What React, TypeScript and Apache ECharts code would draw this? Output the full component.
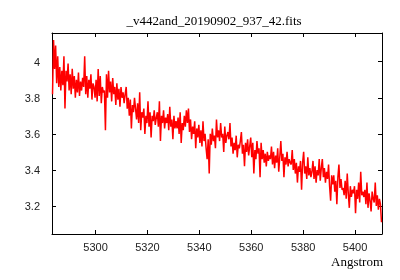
import React, { useEffect, useRef } from "react";
import * as echarts from "echarts";

const TITLE = "_v442and_20190902_937_42.fits";
const X_NAME = "Angstrom";
const X_MIN = 5283.2;
const X_MAX = 5410.4;
const Y_MIN = 3.045;
const Y_MAX = 4.159;
const WAVE_START = 5283.4;
const WAVE_STEP = 0.4;

const fluxA = [
  3.82, 4.12, 3.96, 4.09, 3.88, 4.03, 3.86, 3.97, 3.84, 3.95,
  3.87, 4.03, 3.74, 3.95, 3.89, 3.99, 3.84, 3.93, 3.82, 3.96,
  3.85, 3.92, 3.8, 3.9, 3.83, 3.94, 3.81, 3.89, 3.84, 3.91,
  3.86, 4.03, 3.82, 3.92, 3.8, 3.9, 3.85, 3.93, 3.79, 3.88,
  3.86, 3.8, 3.9, 3.78, 3.96, 3.81, 3.92, 3.77, 3.86, 3.83,
  3.84, 3.62, 3.93, 3.8, 3.95, 3.83, 3.89, 3.78, 3.91, 3.82,
  3.86, 3.76, 3.88, 3.79, 3.85, 3.75, 3.86, 3.8, 3.83, 3.77,
  3.82, 3.86, 3.74, 3.8, 3.7, 3.79, 3.63, 3.76, 3.72, 3.8,
];
const fluxB = [
  3.74, 3.68, 3.77, 3.66, 3.83, 3.62, 3.72, 3.69, 3.74, 3.6,
  3.7, 3.66, 3.78, 3.64, 3.72, 3.58, 3.7, 3.67, 3.73, 3.65,
  3.69, 3.72, 3.64, 3.78, 3.56, 3.7, 3.66, 3.73, 3.63, 3.69,
  3.66, 3.71, 3.62, 3.75, 3.64, 3.68, 3.57, 3.7, 3.63, 3.67,
  3.63, 3.69, 3.6, 3.72, 3.55, 3.66, 3.62, 3.7, 3.64, 3.73,
  3.66, 3.74, 3.61, 3.68, 3.57, 3.64, 3.6, 3.67, 3.52, 3.63,
  3.58, 3.65, 3.55, 3.62, 3.53, 3.67, 3.56, 3.6, 3.52, 3.46,
  3.57, 3.38, 3.6, 3.54, 3.63, 3.56, 3.59, 3.52, 3.68, 3.58,
];
const fluxC = [
  3.62, 3.56, 3.66, 3.58, 3.6, 3.5, 3.64, 3.55, 3.59, 3.61,
  3.57, 3.66, 3.53, 3.58, 3.49, 3.55, 3.51, 3.59, 3.47, 3.54,
  3.52, 3.56, 3.61, 3.49, 3.54, 3.42, 3.55, 3.5, 3.57, 3.48,
  3.53, 3.58, 3.47, 3.55, 3.38, 3.51, 3.46, 3.56, 3.49, 3.52,
  3.36, 3.55, 3.46, 3.51, 3.44, 3.49, 3.42, 3.5, 3.45, 3.48,
  3.46, 3.53, 3.43, 3.5, 3.41, 3.48, 3.44, 3.52, 3.39, 3.47,
  3.56, 3.45, 3.49, 3.36, 3.47, 3.43, 3.5, 3.42, 3.46, 3.44,
  3.43, 3.51, 3.4, 3.46, 3.38, 3.44, 3.33, 3.42, 3.39, 3.45,
];
const fluxD = [
  3.29, 3.44, 3.5, 3.38, 3.42, 3.35, 3.47, 3.37, 3.41, 3.36,
  3.39, 3.45, 3.35, 3.42, 3.33, 3.4, 3.37, 3.46, 3.34, 3.41,
  3.46, 3.36, 3.41, 3.33, 3.39, 3.35, 3.43, 3.31, 3.23, 3.37,
  3.32, 3.37, 3.28, 3.34, 3.21, 3.36, 3.43, 3.3, 3.35, 3.29,
  3.3, 3.26, 3.34, 3.24, 3.38, 3.27, 3.19, 3.31, 3.25, 3.29,
  3.27, 3.31, 3.16, 3.29, 3.24, 3.33, 3.22, 3.39, 3.26, 3.28,
  3.25, 3.29, 3.21, 3.33, 3.19, 3.27, 3.23, 3.17, 3.28, 3.24,
  3.22, 3.33, 3.2, 3.26, 3.18, 3.24, 3.21, 3.11,
];
const flux = [...fluxA, ...fluxB, ...fluxC, ...fluxD];

export default function App() {
  const ref = useRef<HTMLDivElement>(null);
  useEffect(() => {
    if (!ref.current) return;
    const chart = echarts.init(ref.current, null, { renderer: "svg" });
    const data = flux.map((v, i) => [
      Math.round((WAVE_START + i * WAVE_STEP) * 10) / 10,
      v,
    ]);
    const lineStyle = { color: "#000", width: 1 };
    const label = {
      color: "#222",
      fontSize: 11,
      fontFamily: "Liberation Sans",
      showMinLabel: false,
      showMaxLabel: false,
      formatter: (v: number) => String(v),
    };
    const xCommon = {
      type: "value",
      min: X_MIN,
      max: X_MAX,
      splitNumber: 6,
      axisLine: { show: true, onZero: false, lineStyle },
      axisTick: { show: true, inside: true, length: 4, lineStyle },
      splitLine: { show: false },
    };
    const yCommon = {
      type: "value",
      min: Y_MIN,
      max: Y_MAX,
      splitNumber: 5,
      axisLine: { show: true, onZero: false, lineStyle },
      axisTick: { show: true, inside: true, length: 4, lineStyle },
      splitLine: { show: false },
    };
    chart.setOption({
      animation: false,
      grid: {
        left: 52,
        right: 18,
        top: 33,
        bottom: 46,
        containLabel: false,
        outerBoundsMode: "none",
      },
      xAxis: [
        { ...xCommon, position: "bottom", axisLabel: { ...label, margin: 7 } },
        { ...xCommon, position: "top", axisLabel: { show: false } },
      ],
      yAxis: [
        { ...yCommon, position: "left", axisLabel: { ...label, margin: 12 } },
        { ...yCommon, position: "right", axisLabel: { show: false } },
      ],
      graphic: [
        {
          type: "text",
          x: 214,
          y: 20,
          style: {
            text: TITLE,
            fill: "#000",
            fontSize: 13,
            fontFamily: "Liberation Serif",
            align: "center",
            verticalAlign: "middle",
          },
        },
        {
          type: "text",
          x: 383,
          y: 261,
          style: {
            text: X_NAME,
            fill: "#000",
            fontSize: 13,
            fontFamily: "Liberation Serif",
            align: "right",
            verticalAlign: "middle",
          },
        },
      ],
      series: [
        {
          type: "line",
          xAxisIndex: 0,
          yAxisIndex: 0,
          data,
          showSymbol: false,
          symbol: "none",
          sampling: "none",
          clip: true,
          lineStyle: { color: "#ff0000", width: 1.5 },
        },
      ],
    });
    return () => chart.dispose();
  }, []);
  return (
    <div
      ref={ref}
      style={{ position: "fixed", left: 0, top: 0, width: 400, height: 280 }}
    />
  );
}
